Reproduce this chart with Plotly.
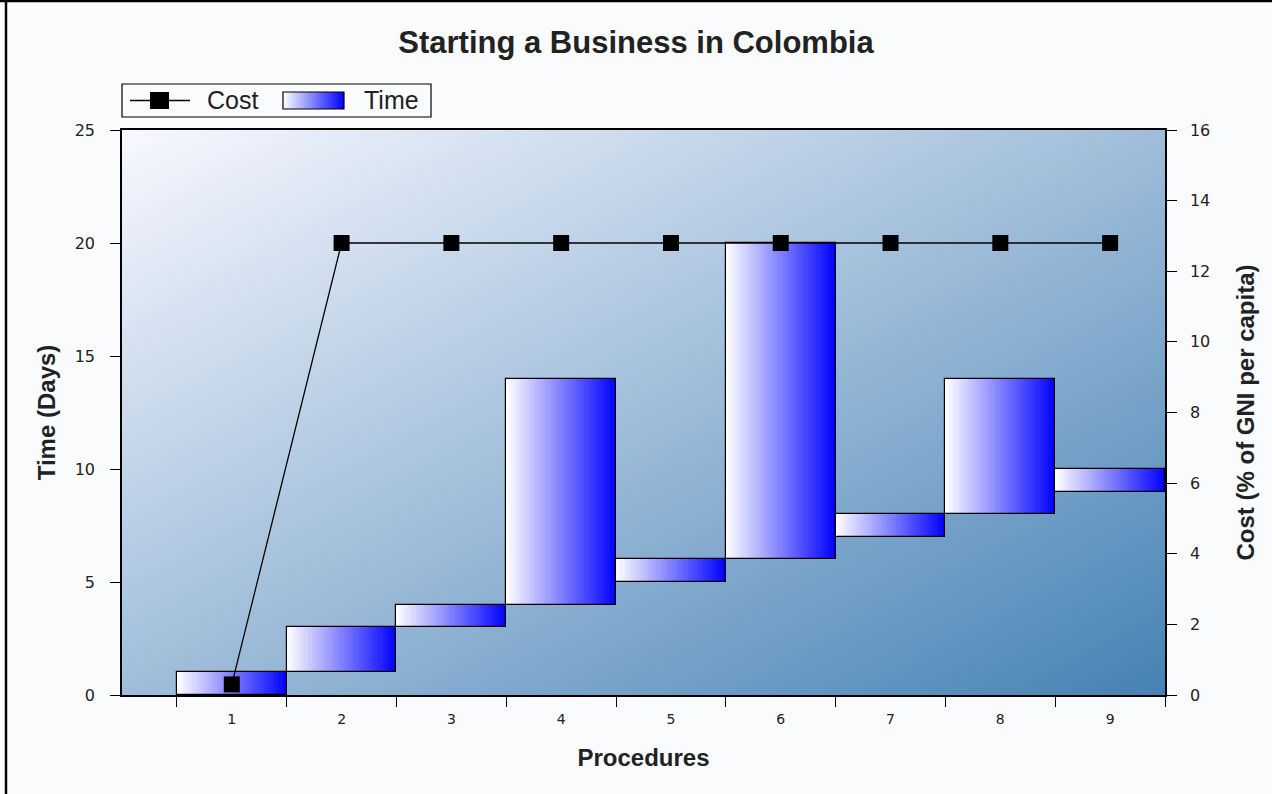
import base64
import plotly.graph_objects as go

# ---------------- data ----------------
procedures = ["1", "2", "3", "4", "5", "6", "7", "8", "9"]
time_start = [0, 1, 3, 4, 5, 6, 7, 8, 9]      # days (bar base)
time_days = [1, 2, 1, 10, 1, 14, 1, 6, 1]     # days (bar length)
cost_pct = [0.3, 12.8, 12.8, 12.8, 12.8, 12.8, 12.8, 12.8, 12.8]
y_ticks = [0, 5, 10, 15, 20, 25]
y2_ticks = [0, 2, 4, 6, 8, 10, 12, 14, 16]

W, H = 1272, 794
ML, MR, MT, MB = 122, 107, 130, 99
PW, PH = W - ML - MR, H - MT - MB


def px(x):
    return (x - ML) / PW


def py(y):
    return (H - MB - y) / PH


def svg_uri(svg):
    return "data:image/svg+xml;base64," + base64.b64encode(svg.encode()).decode()


bg_svg = (
    '<svg xmlns="http://www.w3.org/2000/svg" width="1043" height="565" '
    'viewBox="0 0 100 100" preserveAspectRatio="none">'
    '<defs><linearGradient id="g" x1="0" y1="0" x2="1" y2="1">'
    '<stop offset="0" stop-color="#f8f8ff"/>'
    '<stop offset="1" stop-color="#4682b4"/>'
    '</linearGradient></defs>'
    '<rect x="0" y="0" width="100" height="100" fill="url(#g)"/></svg>'
)
sw_svg = (
    '<svg xmlns="http://www.w3.org/2000/svg" width="60" height="17" '
    'viewBox="0 0 100 100" preserveAspectRatio="none">'
    '<defs><linearGradient id="h" x1="0" y1="0" x2="1" y2="0">'
    '<stop offset="0" stop-color="#ffffff"/>'
    '<stop offset="1" stop-color="#0000ff"/>'
    '</linearGradient></defs>'
    '<rect x="0" y="0" width="100" height="100" fill="url(#h)"/></svg>'
)

fig = go.Figure()

# gradient bars built from vertical strips
N = 44
for k in range(N):
    t = (k + 0.5) / N
    c = int(round(255 * (1 - t)))
    fig.add_trace(go.Bar(
        x=procedures, y=time_days, base=time_start,
        width=1.0 / N, offset=-0.5 + k / N,
        marker=dict(color=f"rgb({c},{c},255)", line=dict(width=0)),
        showlegend=False, hoverinfo="skip",
    ))

# outline of the bars
fig.add_trace(go.Bar(
    x=procedures, y=time_days, base=time_start, width=1.0,
    marker=dict(color="rgba(0,0,0,0)", line=dict(color="black", width=1.2)),
    name="Time", showlegend=False,
))

# cost line
fig.add_trace(go.Scatter(
    x=procedures, y=cost_pct, yaxis="y2", mode="lines+markers",
    line=dict(color="black", width=1.3),
    marker=dict(symbol="square", size=16, color="black"),
    name="Cost", showlegend=False, cliponaxis=False,
))

tick_font = dict(family="DejaVu Sans", size=16, color="#222222")
title_font = dict(family="Liberation Sans", size=24, color="#222222", weight="bold")

fig.update_layout(
    width=W, height=H, autosize=False,
    margin=dict(l=ML, r=MR, t=MT, b=MB, pad=0),
    paper_bgcolor="#fafbfd", plot_bgcolor="rgba(0,0,0,0)",
    barmode="overlay", bargap=0,
    title=dict(text="Starting a Business in Colombia", x=0.5, xanchor="center",
               y=1 - 42 / H, yanchor="middle",
               font=dict(family="Liberation Sans", size=31, color="#222222", weight="bold")),
    xaxis=dict(
        type="category", range=[-1, 8.5], tickson="boundaries",
        ticks="outside", ticklen=10, tickwidth=1.2, tickcolor="black",
        ticklabelstandoff=10,
        showline=True, linecolor="black", linewidth=1.5, mirror=True,
        showgrid=False, zeroline=False,
        tickfont=dict(family="DejaVu Sans", size=14, color="#222222"),
        title=dict(text="Procedures", font=title_font, standoff=24),
    ),
    yaxis=dict(
        range=[0, 25], tickvals=y_ticks,
        ticks="outside", ticklen=10, tickwidth=1.2, tickcolor="black",
        ticklabelstandoff=12,
        showline=True, linecolor="black", linewidth=1.5,
        showgrid=False, zeroline=False, tickfont=tick_font,
        title=dict(text="Time (Days)", font=title_font, standoff=12),
    ),
    yaxis2=dict(
        range=[0, 16], tickvals=y2_ticks, overlaying="y", side="right",
        ticks="outside", ticklen=10, tickwidth=1.2, tickcolor="black",
        ticklabelstandoff=10,
        showline=True, linecolor="black", linewidth=1.5,
        showgrid=False, zeroline=False, tickfont=tick_font,
        title=dict(text="Cost (% of GNI per capita)", font=title_font, standoff=28),
    ),
    images=[
        dict(source=svg_uri(bg_svg), xref="paper", yref="paper", x=0, y=1,
             sizex=1, sizey=1, sizing="stretch", xanchor="left", yanchor="top",
             layer="below"),
        dict(source=svg_uri(sw_svg), xref="paper", yref="paper", x=px(283), y=py(92),
             sizex=px(344) - px(283), sizey=py(92) - py(109), sizing="stretch",
             xanchor="left", yanchor="top", layer="above"),
    ],
    shapes=[
        # outer frame (left and top)
        dict(type="line", xref="paper", yref="paper", x0=px(6), x1=px(6),
             y0=py(0), y1=py(H), line=dict(color="black", width=2.5)),
        dict(type="line", xref="paper", yref="paper", x0=px(0), x1=px(W),
             y0=py(1), y1=py(1), line=dict(color="black", width=2.5)),
        # legend box
        dict(type="rect", xref="paper", yref="paper", x0=px(122), x1=px(431),
             y0=py(117), y1=py(84), line=dict(color="black", width=1.2),
             fillcolor="#fafbfd", layer="below"),
        dict(type="line", xref="paper", yref="paper", x0=px(130), x1=px(190),
             y0=py(100.5), y1=py(100.5), line=dict(color="black", width=1.3)),
        dict(type="rect", xref="paper", yref="paper", x0=px(150), x1=px(169),
             y0=py(109), y1=py(92), line=dict(color="black", width=0),
             fillcolor="black"),
        dict(type="rect", xref="paper", yref="paper", x0=px(283), x1=px(344),
             y0=py(109), y1=py(92), line=dict(color="black", width=1.2)),
    ],
    annotations=[
        dict(text="Cost", xref="paper", yref="paper", x=px(205), y=py(100.5),
             xanchor="left", yanchor="middle", showarrow=False,
             font=dict(family="Liberation Sans", size=25, color="#222222")),
        dict(text="Time", xref="paper", yref="paper", x=px(362), y=py(100.5),
             xanchor="left", yanchor="middle", showarrow=False,
             font=dict(family="Liberation Sans", size=25, color="#222222")),
    ],
)

fig.write_html("out.html")
